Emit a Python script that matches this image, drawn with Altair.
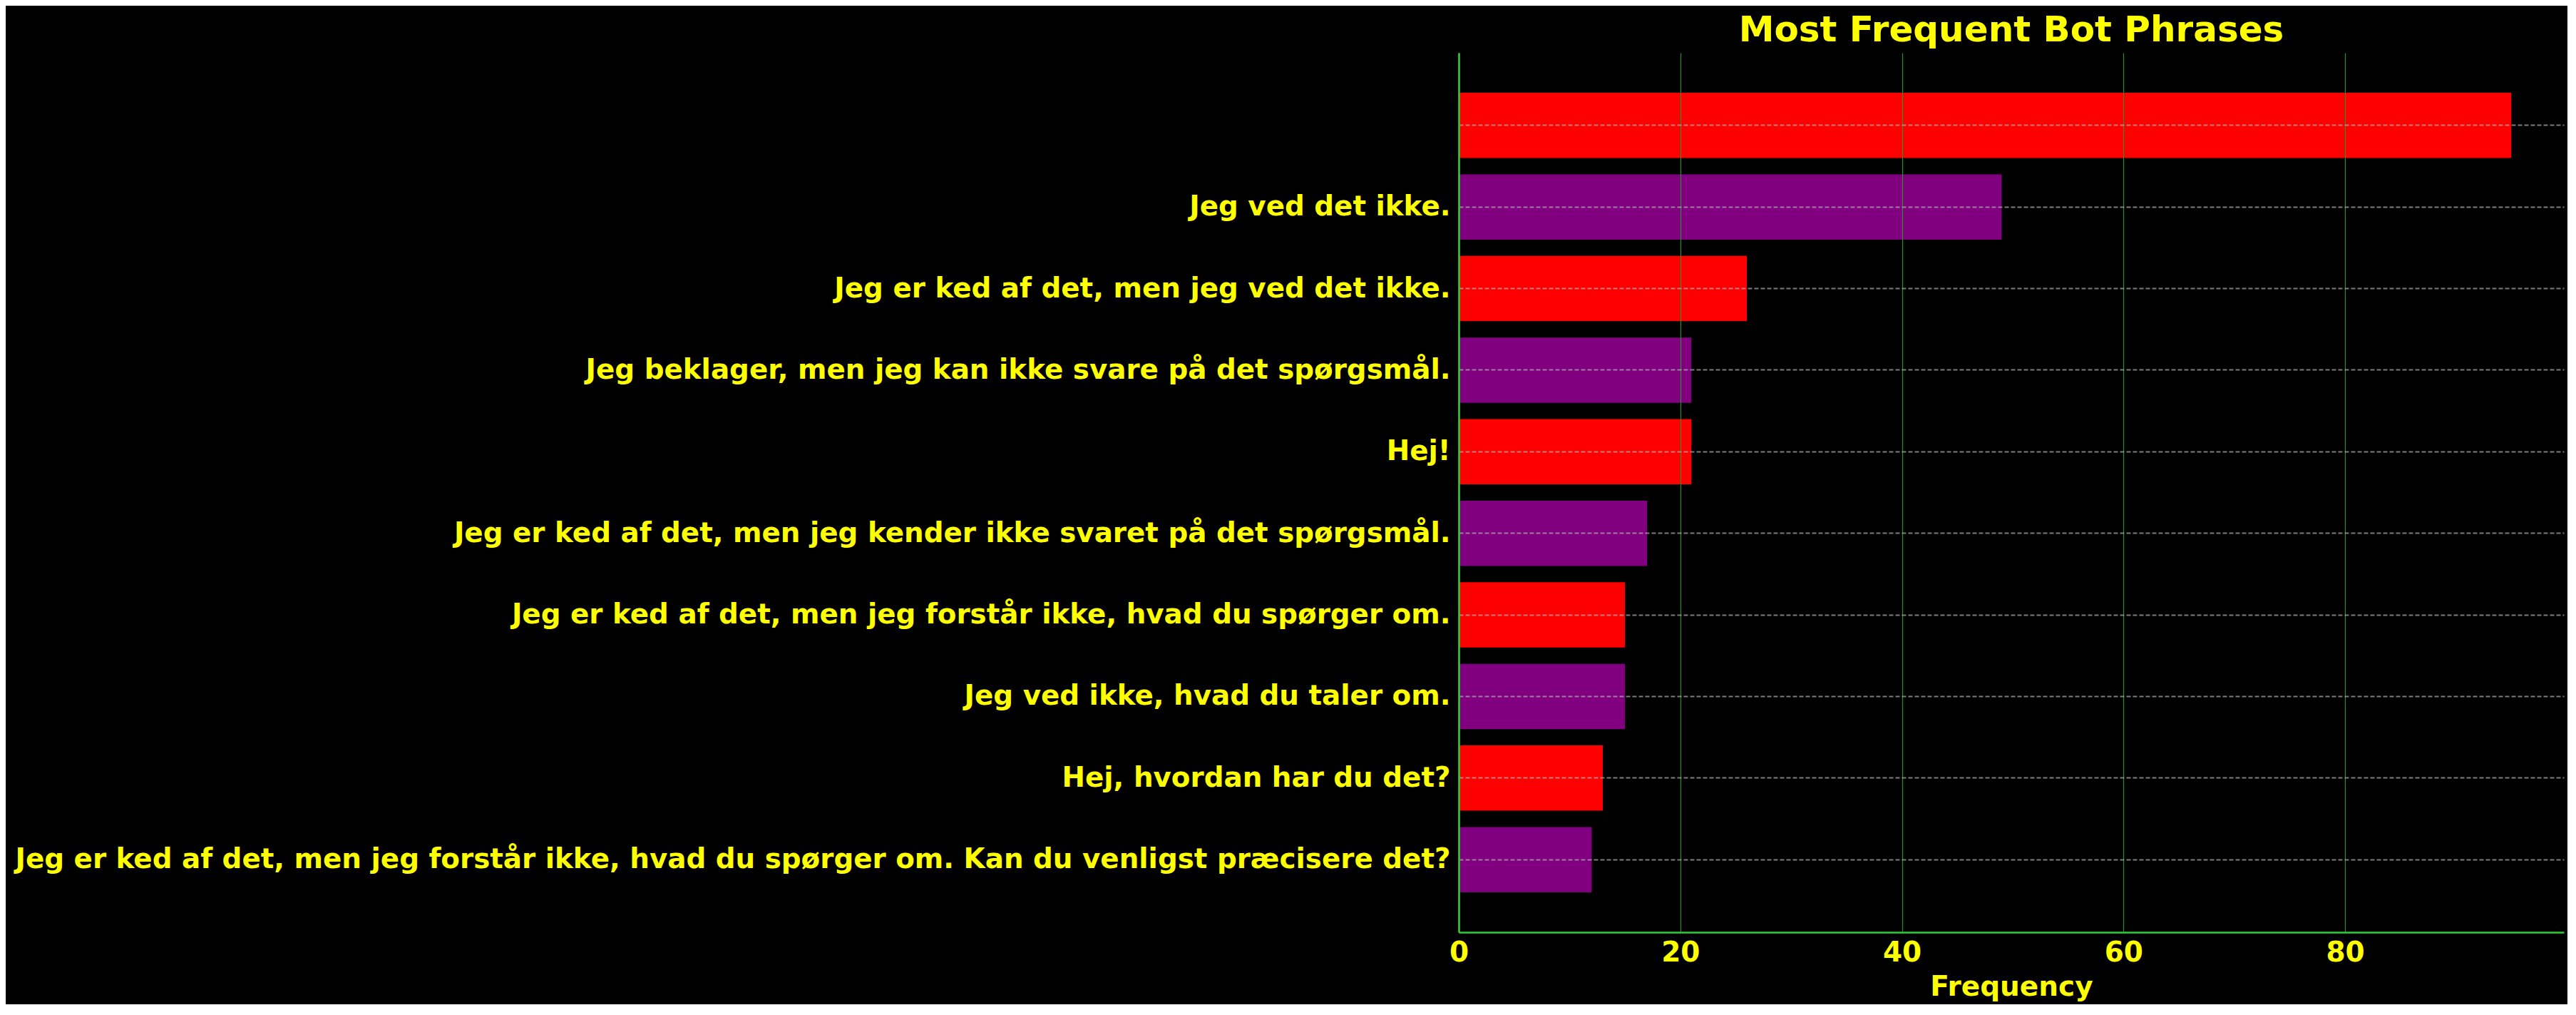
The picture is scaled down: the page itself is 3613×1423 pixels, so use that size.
import altair as alt
import pandas as pd

phrases = [
    " ",
    "Jeg ved det ikke.",
    "Jeg er ked af det, men jeg ved det ikke.",
    "Jeg beklager, men jeg kan ikke svare på det spørgsmål.",
    "Hej!",
    "Jeg er ked af det, men jeg kender ikke svaret på det spørgsmål.",
    "Jeg er ked af det, men jeg forstår ikke, hvad du spørger om.",
    "Jeg ved ikke, hvad du taler om.",
    "Hej, hvordan har du det?",
    "Jeg er ked af det, men jeg forstår ikke, hvad du spørger om. Kan du venligst præcisere det?",
]
counts = [95, 49, 26, 21, 21, 17, 15, 15, 13, 12]
x_ticks = [0, 20, 40, 60, 80]

df = pd.DataFrame({
    "phrase": phrases,
    "count": counts,
    "parity": [i % 2 for i in range(len(phrases))],
})

FONT = "DejaVu Sans"
YELLOW = "#FFFF00"
LIME = "#32CD32"

chart = alt.Chart(df).mark_bar().encode(
    x=alt.X(
        "count:Q",
        title="Frequency",
        scale=alt.Scale(domain=[0, 99.75], nice=False, zero=True),
        axis=alt.Axis(
            values=x_ticks,
            format="d",
            grid=True,
            gridColor="#2a8f2a",
            gridWidth=1.2,
            domainColor=LIME,
            domainWidth=2.6,
            ticks=False,
            labelFlush=False,
            labelPadding=9,
            labelFont=FONT,
            labelFontSize=39,
            labelFontWeight="bold",
            labelColor=YELLOW,
            titleFont=FONT,
            titleFontSize=39,
            titleFontWeight="bold",
            titleColor=YELLOW,
            titlePadding=9,
            zindex=1,
        ),
    ),
    y=alt.Y(
        "phrase:N",
        sort=phrases,
        title=None,
        scale=alt.Scale(paddingInner=0.2, paddingOuter=0.49),
        axis=alt.Axis(
            grid=True,
            gridColor="#b0b0b0",
            gridOpacity=0.7,
            gridDash=[6, 3],
            gridWidth=2,
            bandPosition=0.5,
            domainColor=LIME,
            domainWidth=2.6,
            ticks=False,
            labelPadding=12,
            labelFont=FONT,
            labelFontSize=38.85,
            labelFontWeight="bold",
            labelColor=YELLOW,
            labelLimit=0,
            zindex=1,
        ),
    ),
    color=alt.Color(
        "parity:O",
        scale=alt.Scale(domain=[0, 1], range=["#FF0000", "#800080"]),
        legend=None,
    ),
).properties(
    width=1550,
    height=1233,
    background="black",
    padding={"left": 12, "top": 10, "right": 5, "bottom": 5},
    title=alt.TitleParams(
        "Most Frequent Bot Phrases",
        font=FONT,
        fontSize=50,
        fontWeight="bold",
        color=YELLOW,
        anchor="middle",
        frame="group",
        baseline="bottom",
        offset=-44,
    ),
).configure_view(stroke=None)

chart.save("out.html", embed_options={"renderer": "svg", "actions": False})
